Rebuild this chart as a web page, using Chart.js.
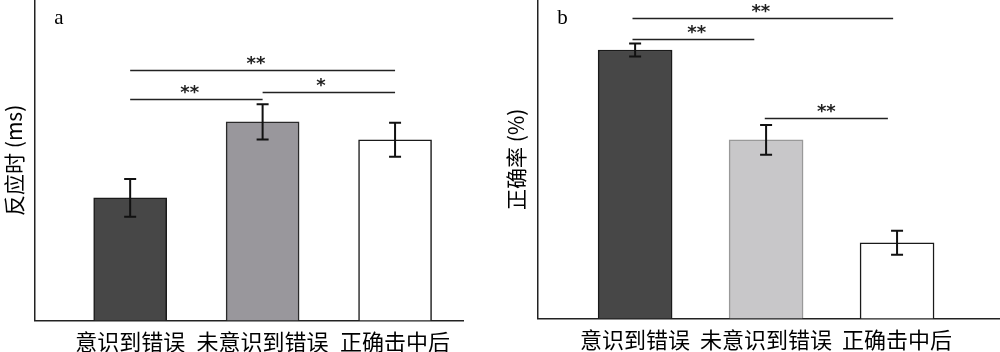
<!DOCTYPE html>
<html>
<head>
<meta charset="utf-8">
<script src="https://cdn.jsdelivr.net/npm/chart.js@4"></script>
<style>
  html, body { margin: 0; padding: 0; background: #fff; }
  .wrap { position: relative; width: 1000px; height: 352px; overflow: hidden; }
  .panel { position: absolute; top: 0; width: 500px; }
</style>
</head>
<body>
<div class="wrap">
  <div class="panel" style="left:0;height:363px"><canvas id="rtChart"></canvas></div>
  <div class="panel" style="left:500px;height:361px"><canvas id="accChart"></canvas></div>
</div>
<script>
const categories = ['意识到错误', '未意识到错误', '正确击中后'];

// panel a: reaction time (no tick values shown, relative units)
const rtValues = [38.3, 62.0, 56.4];
const rtErrors = [5.9, 5.5, 5.3];
// [from, to, height, label x, label]
const rtSig = [
  [0, 2, 78.2, 0.95, '**'],
  [0, 1, 69.2, 0.45, '**'],
  [1, 2, 71.3, 1.44, '*']
];

// panel b: accuracy
const accValues = [84.3, 56.1, 23.8];
const accErrors = [2.05, 4.7, 3.75];
const accSig = [
  [-0.02, 1.97, 94.4, 0.96, '**'],
  [-0.02, 0.91, 87.8, 0.47, '**'],
  [0.99, 1.93, 63.0, 1.46, '**']
];

const cjk = '"Noto Sans CJK SC", sans-serif';

function annotations(errors, sig, letter) {
  return {
    id: 'annotations',
    afterDatasetsDraw(chart) {
      const ctx = chart.ctx;
      const x = chart.scales.x, y = chart.scales.y;
      ctx.save();
      // error bars
      ctx.strokeStyle = '#111';
      ctx.lineWidth = 2;
      errors.forEach((e, i) => {
        const v = chart.data.datasets[0].data[i].y;
        const px = x.getPixelForValue(i);
        const top = y.getPixelForValue(v + e);
        const bot = y.getPixelForValue(v - e);
        ctx.beginPath();
        ctx.moveTo(px, top); ctx.lineTo(px, bot);
        ctx.moveTo(px - 6, top); ctx.lineTo(px + 6, top);
        ctx.moveTo(px - 6, bot); ctx.lineTo(px + 6, bot);
        ctx.stroke();
      });
      // significance lines
      ctx.lineWidth = 1.5;
      ctx.strokeStyle = '#222';
      ctx.fillStyle = '#222';
      ctx.font = 'bold 18px "DejaVu Sans"';
      ctx.textAlign = 'center';
      ctx.textBaseline = 'alphabetic';
      sig.forEach(([a, b, h, lx, txt]) => {
        const py = Math.round(y.getPixelForValue(h)) + 0.5;
        ctx.beginPath();
        ctx.moveTo(x.getPixelForValue(a), py);
        ctx.lineTo(x.getPixelForValue(b), py);
        ctx.stroke();
        ctx.fillText(txt, x.getPixelForValue(lx), py - 2);
      });
      // panel letter
      ctx.font = '21px "Liberation Serif"';
      ctx.textAlign = 'left';
      ctx.fillStyle = '#000';
      ctx.fillText(letter, chart.chartArea.left + 19, 24);
      ctx.restore();
    }
  };
}

function makeChart(id, values, errors, sig, cfg) {
  new Chart(document.getElementById(id), {
    type: 'bar',
    data: {
      datasets: [{
        data: values.map((v, i) => ({ x: i, y: v })),
        backgroundColor: cfg.fill,
        borderColor: cfg.border,
        borderWidth: 1.5,
        barThickness: cfg.barWidth
      }]
    },
    options: {
      responsive: true,
      maintainAspectRatio: false,
      animation: false,
      layout: { padding: { right: cfg.padRight } },
      plugins: { legend: { display: false }, tooltip: { enabled: false } },
      scales: {
        x: {
          type: 'linear',
          offset: false,
          min: cfg.xMin,
          max: cfg.xMax,
          grid: { display: false, drawTicks: false, offset: false },
          border: { display: true, color: '#222', width: 1.5 },
          afterBuildTicks: s => { s.ticks = categories.map((c, i) => ({ value: i })); },
          ticks: {
            autoSkip: false,
            maxRotation: 0,
            padding: cfg.tickPad,
            color: '#000',
            font: { family: cjk, size: 22 },
            callback: v => categories[v]
          }
        },
        y: {
          min: 0,
          max: 100,
          grid: { display: false, drawTicks: false },
          border: { display: true, color: '#222', width: 1.5 },
          ticks: { display: false },
          title: {
            display: true,
            text: cfg.yTitle,
            color: '#000',
            font: { family: cjk, size: 21 },
            padding: cfg.titlePad
          }
        }
      }
    },
    plugins: [annotations(errors, sig, cfg.letter)]
  });
}

makeChart('rtChart', rtValues, rtErrors, rtSig, {
  fill: ['#474747', '#99979c', '#ffffff'],
  border: ['#1a1a1a', '#2a2a2a', '#1a1a1a'],
  barWidth: 73,
  xMin: -0.717, xMax: 2.513,
  padRight: 37,
  tickPad: 8,
  yTitle: '反应时 (ms)',
  titlePad: { top: 1, bottom: 9 },
  letter: 'a'
});

makeChart('accChart', accValues, accErrors, accSig, {
  fill: ['#474747', '#c8c7c9', '#ffffff'],
  border: ['#1a1a1a', '#999999', '#1a1a1a'],
  barWidth: 74,
  xMin: -0.74, xMax: 2.786,
  padRight: 0,
  tickPad: 8,
  yTitle: '正确率 (%)',
  titlePad: { top: 3, bottom: 10 },
  letter: 'b'
});
</script>
</body>
</html>
